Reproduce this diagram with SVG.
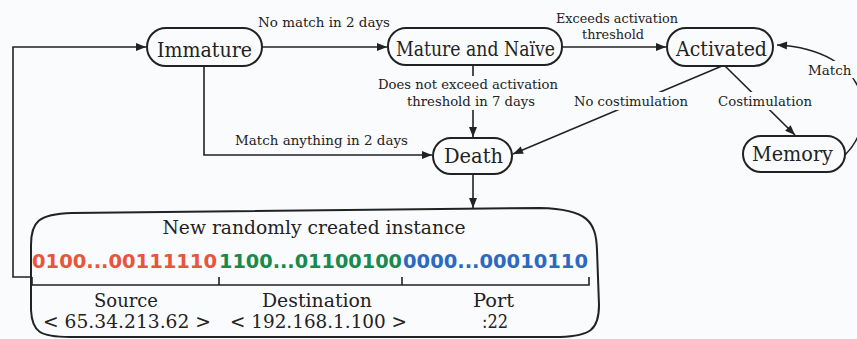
<svg xmlns="http://www.w3.org/2000/svg" width="857" height="339" viewBox="0 0 857 339">
<style>
.bg{fill:#fafbfd}
.node{fill:none;stroke:#222;stroke-width:2}
.nt{font-family:"DejaVu Serif",serif;font-size:20px;fill:#222;text-anchor:middle}
.lbl{font-family:"DejaVu Serif",serif;font-size:13.5px;fill:#222;text-anchor:middle}
.big{font-family:"DejaVu Serif",serif;font-size:19px;fill:#222;text-anchor:middle}
.edge{fill:none;stroke:#222;stroke-width:1.6}
.bits{font-family:"DejaVu Sans",sans-serif;font-size:19px;font-weight:bold}
.mask{fill:#fafbfd}
</style>
<defs>
<marker id="ah" viewBox="0 0 10 8" refX="10" refY="4" markerWidth="11" markerHeight="8" markerUnits="userSpaceOnUse" orient="auto">
<path d="M0,0 L10,4 L0,8 Z" fill="#222"/>
</marker>
</defs>
<rect class="bg" x="0" y="0" width="857" height="339"/>

<g id="connectors">
<path class="edge" d="M31,277 L13,277 L13,47 L146,47" marker-end="url(#ah)"/>
<path class="edge" d="M262,47 L387,47" marker-end="url(#ah)"/>
<path class="edge" d="M204,66 L204,155 L432,155" marker-end="url(#ah)"/>
<path class="edge" d="M473,65 L473,137" marker-end="url(#ah)"/>
<path class="edge" d="M562,47 L666,47" marker-end="url(#ah)"/>
<path class="edge" d="M722,66 L513,154" marker-end="url(#ah)"/>
<path class="edge" d="M725,66 L795,135" marker-end="url(#ah)"/>
<path class="edge" d="M845,155 C880,120 870,50 777,45" marker-end="url(#ah)"/>
<path class="edge" d="M473,174 L473,208" marker-end="url(#ah)"/>
<rect class="mask" x="374" y="76" width="190" height="34"/>
<rect class="mask" x="570" y="92" width="122" height="18"/>
<rect class="mask" x="714" y="92" width="102" height="18"/>
<rect class="mask" x="805" y="61" width="52" height="17"/>
<text class="lbl" x="324" y="27" textLength="132" lengthAdjust="spacingAndGlyphs">No match in 2 days</text>
<text class="lbl" x="617" y="23" textLength="122" lengthAdjust="spacingAndGlyphs">Exceeds activation</text>
<text class="lbl" x="613" y="39" textLength="62" lengthAdjust="spacingAndGlyphs">threshold</text>
<text class="lbl" x="468" y="89" textLength="180" lengthAdjust="spacingAndGlyphs">Does not exceed activation</text>
<text class="lbl" x="471" y="106" textLength="128" lengthAdjust="spacingAndGlyphs">threshold in 7 days</text>
<text class="lbl" x="631" y="106" textLength="114" lengthAdjust="spacingAndGlyphs">No costimulation</text>
<text class="lbl" x="765" y="106" textLength="94" lengthAdjust="spacingAndGlyphs">Costimulation</text>
<text class="lbl" x="321.5" y="145" textLength="173" lengthAdjust="spacingAndGlyphs">Match anything in 2 days</text>
<text class="lbl" x="808" y="75" style="text-anchor:start">Match</text>
</g>

<g id="immature">
<rect class="node" x="147" y="28" width="115" height="38" rx="19"/>
<text class="nt" x="204.5" y="57" textLength="95" lengthAdjust="spacingAndGlyphs">Immature</text>
</g>
<g id="mature">
<rect class="node" x="388" y="28" width="174" height="37" rx="18"/>
<text class="nt" x="475.5" y="56" textLength="159" lengthAdjust="spacingAndGlyphs">Mature and Naïve</text>
</g>
<g id="activated">
<rect class="node" x="667" y="28" width="106" height="38" rx="19"/>
<text class="nt" x="721.5" y="56" textLength="91" lengthAdjust="spacingAndGlyphs">Activated</text>
</g>
<g id="death">
<rect class="node" x="433" y="138" width="79" height="36" rx="18"/>
<text class="nt" x="473.5" y="163" textLength="59" lengthAdjust="spacingAndGlyphs">Death</text>
</g>
<g id="memory">
<rect class="node" x="743" y="136" width="102" height="36" rx="18"/>
<text class="nt" x="792.5" y="161" textLength="81" lengthAdjust="spacingAndGlyphs">Memory</text>
</g>

<g id="instance">
<path class="node" d="M31,245 C31,222 38,214 72,213 L540,208 C588,209 596,222 597,250 L599,305 C599,330 590,336 560,337 L70,337 C40,337 32,332 31,310 Z"/>
<text class="big" x="314" y="234" textLength="303" lengthAdjust="spacingAndGlyphs">New randomly created instance</text>
<text class="bits" x="32" y="268" fill="#e9543b" textLength="185" lengthAdjust="spacingAndGlyphs">0100...00111110</text>
<text class="bits" x="219" y="268" fill="#178a4c" textLength="183" lengthAdjust="spacingAndGlyphs">1100...01100100</text>
<text class="bits" x="403" y="268" fill="#2c69c0" textLength="185" lengthAdjust="spacingAndGlyphs">0000...00010110</text>
<path class="edge" d="M32,277 L32,285 L589,285 L589,277 M219,277 L219,285 M402,277 L402,285" stroke-width="1.4"/>
<text class="big" x="126" y="307" textLength="64" lengthAdjust="spacingAndGlyphs">Source</text>
<text class="big" x="127" y="328" textLength="168" lengthAdjust="spacingAndGlyphs">&lt; 65.34.213.62 &gt;</text>
<text class="big" x="317" y="307" textLength="110" lengthAdjust="spacingAndGlyphs">Destination</text>
<text class="big" x="318.5" y="328" textLength="177" lengthAdjust="spacingAndGlyphs">&lt; 192.168.1.100 &gt;</text>
<text class="big" x="493.5" y="307" textLength="41" lengthAdjust="spacingAndGlyphs">Port</text>
<text class="big" x="495" y="328" textLength="26" lengthAdjust="spacingAndGlyphs">:22</text>
</g>
</svg>
